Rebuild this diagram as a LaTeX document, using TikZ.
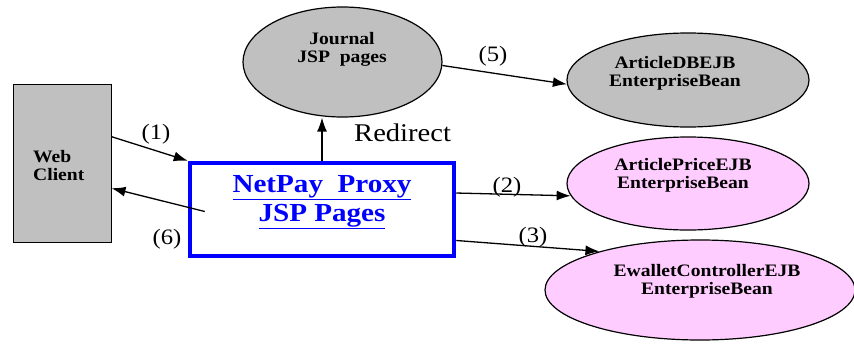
\documentclass[tikz,border=0pt]{standalone}
\usepackage{fontspec}
\setmainfont{Liberation Serif}[FakeStretch=1.12]
\usetikzlibrary{arrows.meta,shapes.geometric,calc}
\definecolor{boxgray}{HTML}{C0C0C0}
\definecolor{beanpink}{HTML}{FFCCFF}
\definecolor{netblue}{HTML}{0000FF}
\tikzset{
  oval/.style={ellipse, draw=black, line width=1.2pt, inner sep=0pt},
  grayoval/.style={oval, fill=boxgray},
  pinkoval/.style={oval, fill=beanpink},
  beantext/.style={font=\bfseries\fontsize{17.5}{18}\selectfont, align=center, inner sep=0pt},
  steplabel/.style={font=\fontsize{22}{22}\selectfont, inner sep=0pt},
  conn/.style={line width=1.3pt, -{Latex[length=14pt,width=10pt]}},
}
\begin{document}
\begin{tikzpicture}[x=1pt,y=-1pt]
\useasboundingbox (0,0) rectangle (854,343);
\clip (0,0) rectangle (854,343);
% Web client
\node[draw=black, line width=1pt, fill=boxgray, minimum width=98pt, minimum height=158pt, inner sep=0pt] (wc) at (62,163) {};
\node[beantext, align=left, anchor=west] (wct) at (33,166) {Web\\Client};
% NetPay proxy box
\node[draw=netblue, line width=4.5pt, fill=white, minimum width=264pt, minimum height=93pt, inner sep=0pt] (np) at (322,209.5) {};
\node[font=\bfseries\fontsize{26}{29}\selectfont, text=netblue, align=center, inner sep=0pt] (npt) at (322,202) {\underline{NetPay\ \ Proxy}\\\underline{JSP Pages}};
% Journal
\node[grayoval, minimum width=199pt, minimum height=110pt] (j) at (342.5,62) {};
\node[beantext] (jt) at (342,49) {Journal\\JSP\ \ pages};
% ArticleDBEJB
\node[grayoval, minimum width=242pt, minimum height=94pt] (ad) at (688,80) {};
\node[beantext] (adt) at (675,73) {ArticleDBEJB\\EnterpriseBean};
% ArticlePriceEJB
\node[pinkoval, minimum width=242pt, minimum height=93pt] (ap) at (688,183.5) {};
\node[beantext] (apt) at (683,175) {ArticlePriceEJB\\EnterpriseBean};
% EwalletControllerEJB
\node[pinkoval, minimum width=310pt, minimum height=100pt] (ew) at (700,290) {};
\node[beantext] (ewt) at (707,281) {EwalletControllerEJB\\EnterpriseBean};
% connectors
\draw[conn] (wc.28) -- (np.north west);
\draw[conn] ($(np.west)+(17,2)$) -- (wc.-27);
\draw[conn] (np.north) -- (np.north |- j.south);
\draw[conn] (np.7) -- (ap.186);
\draw[conn] (np.-13) -- (ew.159);
\draw[conn] (j.-2) -- (ad.182);
% labels
\node[steplabel] (l1) at (156,134) {(1)};
\node[steplabel] (l6) at (167,239) {(6)};
\node[steplabel] (l2) at (507,187) {(2)};
\node[steplabel] (l3) at (533,237) {(3)};
\node[steplabel] (l5) at (493,56) {(5)};
\node[steplabel, anchor=west, font=\fontsize{25.5}{26}\selectfont] (lr) at (354,133) {Redirect};
\end{tikzpicture}
\end{document}
